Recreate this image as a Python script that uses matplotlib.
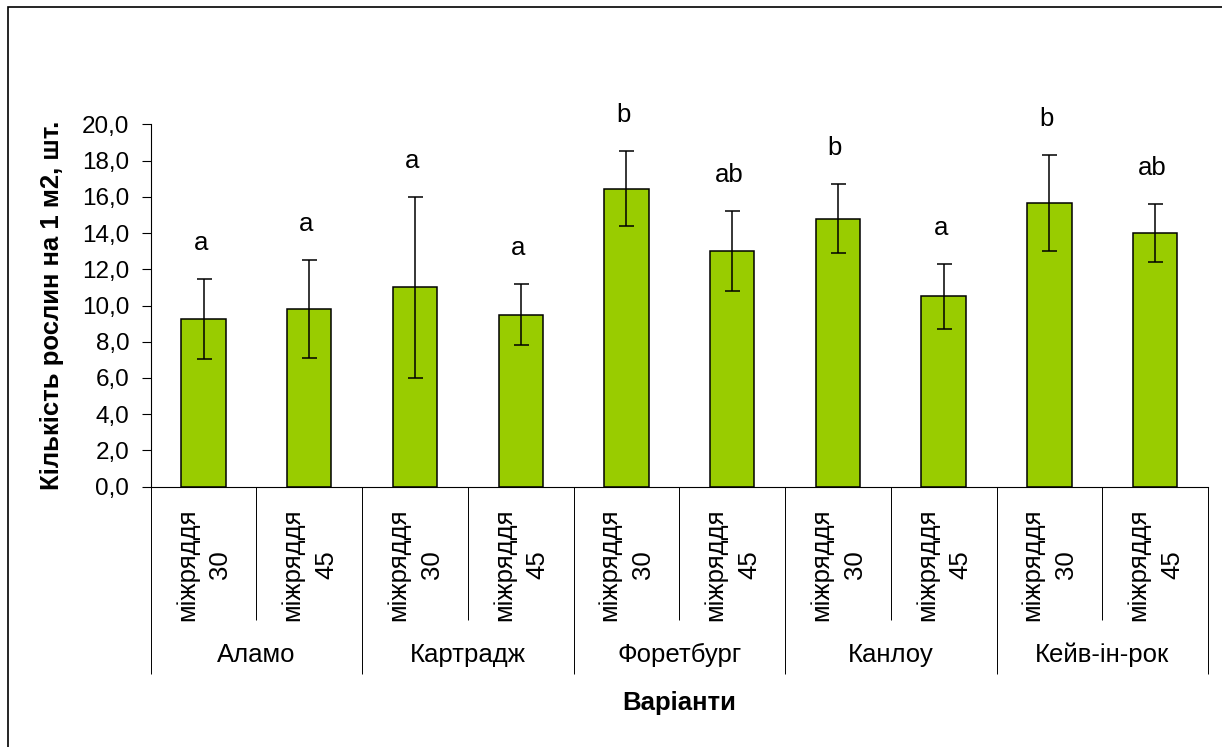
import numpy as np
import matplotlib
matplotlib.use('Agg')
import matplotlib.pyplot as plt
from matplotlib.patches import Rectangle
from matplotlib.transforms import IdentityTransform, blended_transform_factory

plt.rcParams['font.family'] = ['Liberation Sans', 'DejaVu Sans']
plt.rcParams['font.size'] = 18.5

# дані
cultivars = ['Аламо', 'Картрадж', 'Форетбург', 'Канлоу', 'Кейв-ін-рок']
spacing = ['міжряддя\n30', 'міжряддя\n45']
density = [9.25, 9.8, 11.0, 9.5, 16.45, 13.0, 14.8, 10.5, 15.65, 14.0]
sd = [2.2, 2.7, 5.0, 1.7, 2.05, 2.2, 1.9, 1.8, 2.65, 1.6]
groups = ['a', 'a', 'a', 'a', 'b', 'ab', 'b', 'a', 'b', 'ab']
yticks = [0, 2, 4, 6, 8, 10, 12, 14, 16, 18, 20]

BAR_COLOR = '#99CC00'

W, H = 1222, 747
fig = plt.figure(figsize=(W / 100, H / 100), dpi=100)
ax = fig.add_axes([150.7 / W, 1 - 486.7 / H, (1208 - 150.7) / W, (486.7 - 124.3) / H])

x = np.arange(len(density))
ax.bar(x, density, width=0.42, color=BAR_COLOR, edgecolor='black', linewidth=1.1, zorder=2)
ax.errorbar(x, density, yerr=sd, fmt='none', ecolor='black', elinewidth=1.1,
            capsize=5.4, capthick=1.1, zorder=3)

# букви достовірності над планками похибок
for xi, v, e, g in zip(x, density, sd, groups):
    ax.annotate(g, xy=(xi, v + e), xytext=(-3, 29), textcoords='offset pixels',
                ha='center', va='baseline')

ax.set_xlim(-0.5, len(density) - 0.5)
ax.set_ylim(0, 20)
ax.set_yticks(yticks)
ax.set_yticklabels([f'{v:.1f}'.replace('.', ',') for v in yticks])
ax.tick_params(axis='y', direction='out', length=6.5, width=0.8, pad=9, labelsize=17.5)

# поділки категорій на осі X
ax.set_xticks(np.arange(-0.5, len(density), 2))
ax.set_xticks(np.arange(0.5, len(density), 2), minor=True)
ax.tick_params(axis='x', which='major', direction='out', length=134.6, width=0.7, labelbottom=False)
ax.tick_params(axis='x', which='minor', direction='out', length=96, width=0.7, labelbottom=False)

for s in ['top', 'right']:
    ax.spines[s].set_visible(False)
for s in ['left', 'bottom']:
    ax.spines[s].set_linewidth(0.8)

trans = blended_transform_factory(ax.transData, ax.transAxes)
for i in range(len(density)):
    ax.text(i, -0.216, spacing[i % 2], transform=trans, rotation=90,
            ha='center', va='center', multialignment='center', linespacing=1.5)
for j, name in enumerate(cultivars):
    ax.text(2 * j + 0.5, -0.464, name, transform=trans, ha='center', va='center')

fig.text(52 / W, 1 - 305 / H, 'Кількість рослин на 1 м2, шт.', rotation=90,
         ha='center', va='center', fontweight='bold')
fig.text(679 / W, 1 - 703 / H, 'Варіанти', ha='center', va='center', fontweight='bold')

# рамка навколо діаграми
fig.add_artist(Rectangle((8, -20), 1400, H - 6.5 + 20, transform=IdentityTransform(),
                         fill=False, edgecolor='black', linewidth=1.2))

fig.savefig('out.png', dpi=100, facecolor='white')
